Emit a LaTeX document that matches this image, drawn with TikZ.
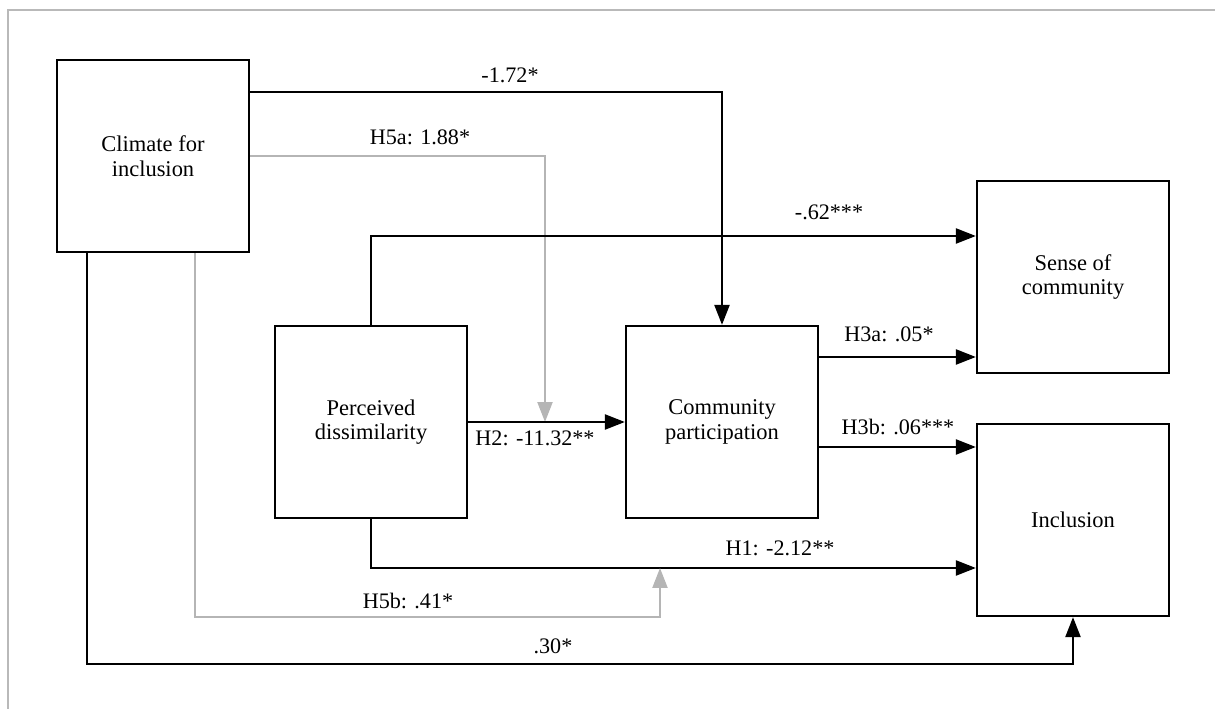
\documentclass[tikz,border=0pt]{standalone}
\usepackage{fontspec}
\setmainfont{Liberation Serif}
\usetikzlibrary{arrows.meta,calc}
\definecolor{modgray}{HTML}{b5b5b5}
\definecolor{framegray}{HTML}{b9b9b9}

\begin{document}
\begin{tikzpicture}[
  x=0.02cm, y=-0.02cm,
  var/.style={draw, line width=1.3pt, minimum width=3.84cm, minimum height=3.84cm, inner sep=0, align=center, font=\fontsize{12.8}{14}\selectfont},
  lbl/.style={font=\fontsize{12.6}{14}\selectfont, inner sep=0},
  arr/.style={-{Triangle[length=0.4cm, width=0.3cm]}, line width=1.3pt},
  modarr/.style={arr, modgray}
]
\useasboundingbox (0,0) rectangle (1215,709);
% page frame
\draw[framegray, line width=1.3pt] (8,709) -- (8,10) -- (1215,10);

% variables
\foreach \n/\x/\y/\t in {climate/153/156/{Climate for\\inclusion},
    dissim/371/422/{Perceived\\dissimilarity},
    partic/722/422/{Community\\participation},
    sense/1073/277/{Sense of\\community},
    incl/1073/520/{Inclusion}}{
  \node[var] (\n) at (\x,\y) {\t};
}
\coordinate (h2mod) at (545,422);
\coordinate (h1mod) at (660,568);

% paths
\draw[arr] (climate.north east) ++(0,33) -| (partic.north);
\node[lbl] (l172) at (510,75) {-1.72*};
\draw[modarr] (climate.east) -| (h2mod);
\node[lbl] (lh5a) at (420,137) {H5a: 1.88*};
\draw[arr] (dissim.north) |- ($(sense.west)+(0,-41)$);
\node[lbl] (l62) at (829,212) {-.62***};
\draw[arr] (dissim) -- (partic);
\node[lbl] (lh2) at (535,438) {H2: -11.32**};
\draw[arr] ($(partic.east)+(0,-65)$) -- ($(sense.west)+(0,80)$);
\node[lbl] (lh3a) at (889,334) {H3a: .05*};
\draw[arr] ($(partic.east)+(0,25)$) -- ($(incl.west)+(0,-73)$);
\node[lbl] (lh3b) at (898,427) {H3b: .06***};
\draw[arr] (dissim.south) |- ($(incl.west)+(0,48)$);
\node[lbl] (lh1) at (780,548) {H1: -2.12**};
\draw[modarr] ($(climate.south)+(42,0)$) |- (h1mod |- incl.south) -- (h1mod);
\node[lbl] (lh5b) at (408,601) {H5b: .41*};
\draw[arr] ($(climate.south)+(-66,0)$) |- ($(incl.south)+(0,47)$) -- (incl.south);
\node[lbl] (l30) at (553,646) {.30*};
\end{tikzpicture}
\end{document}
